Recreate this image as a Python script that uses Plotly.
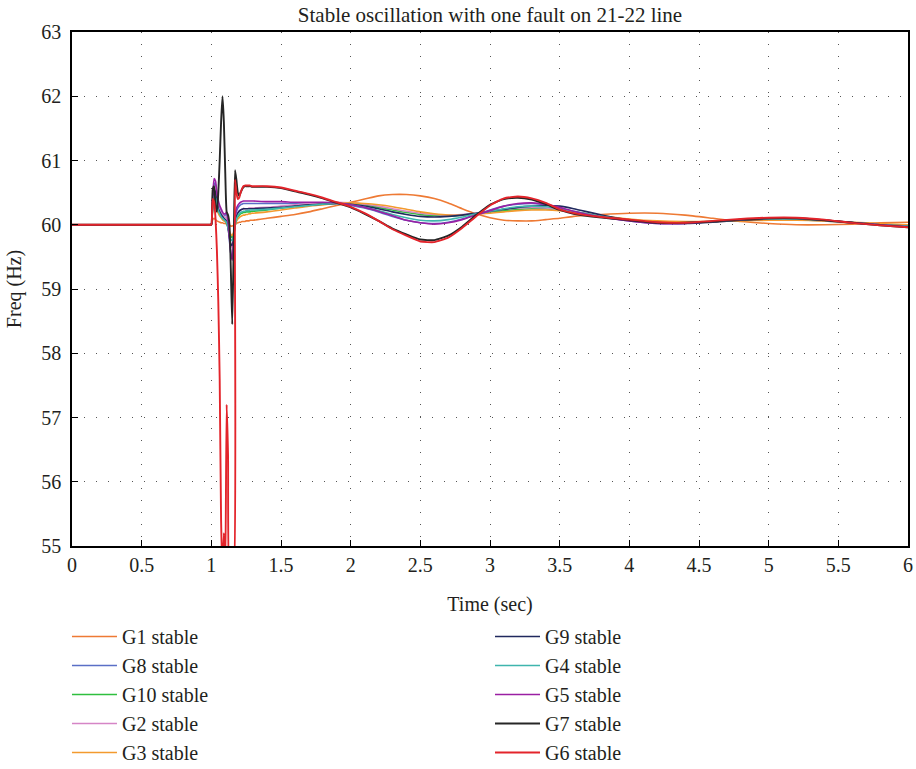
import plotly.graph_objects as go

T = [0.0, 0.99,
     1.00, 1.01, 1.02, 1.03, 1.04, 1.05, 1.06, 1.07, 1.08, 1.09, 1.10, 1.11, 1.12, 1.13, 1.14, 1.15,
     1.16, 1.17, 1.18, 1.19, 1.20, 1.21, 1.22, 1.23, 1.24, 1.25, 1.26, 1.27, 1.28, 1.29, 1.30,
     1.4, 1.5, 1.6, 1.7, 1.8, 1.9, 2.0, 2.1, 2.2, 2.3, 2.4, 2.5, 2.6, 2.7, 2.8, 2.9, 3.0, 3.1, 3.2,
     3.3, 3.4, 3.5, 3.6,
     3.8, 4.0, 4.2, 4.4, 4.6, 4.8, 5.0, 5.2, 5.4, 5.6, 5.8, 6.0]

G1 = [60.0, 60.0,
      60.0, 60.08, 60.1, 60.08, 60.06, 60.05, 60.04, 60.03, 60.03, 60.02, 60.02, 60.01, 60.0, 59.99, 59.98,
      59.98, 59.99, 60.01, 60.02, 60.03, 60.04, 60.04, 60.05, 60.05, 60.05, 60.06, 60.06, 60.06, 60.07, 60.07, 60.07,
      60.1, 60.13, 60.16, 60.2, 60.25, 60.3, 60.35, 60.4, 60.45, 60.47, 60.47, 60.45, 60.41, 60.34, 60.25,
      60.17, 60.11, 60.07, 60.06, 60.06, 60.08, 60.1, 60.13,
      60.16, 60.18, 60.18, 60.15, 60.1, 60.05, 60.02, 60.0, 60.0, 60.01, 60.03, 60.04]
G8 = [60.0, 60.0,
      60.0, 60.4, 60.65, 60.62, 60.45, 60.33, 60.26, 60.22, 60.18, 60.15, 60.15, 60.16, 60.0, 59.75, 59.55,
      59.5, 59.75, 60.05, 60.2, 60.26, 60.29, 60.31, 60.32, 60.33, 60.33, 60.33, 60.33, 60.33, 60.33, 60.33, 60.33,
      60.33, 60.33, 60.33, 60.33, 60.33, 60.33, 60.30, 60.26, 60.20, 60.13, 60.07, 60.03, 60.02, 60.04, 60.09,
      60.16, 60.23, 60.29, 60.32, 60.33, 60.31, 60.26, 60.2,
      60.12, 60.06, 60.02, 60.02, 60.05, 60.08, 60.09, 60.09, 60.07, 60.03, 60.0, 59.98]
G10 = [60.0, 60.0,
       60.0, 60.28, 60.4, 60.37, 60.27, 60.2, 60.15, 60.12, 60.09, 60.07, 60.05, 60.02, 59.95, 59.87, 59.82,
       59.8, 59.86, 59.98, 60.07, 60.12, 60.15, 60.17, 60.18, 60.19, 60.19, 60.2, 60.2, 60.2, 60.2, 60.21, 60.21,
       60.23, 60.26, 60.29, 60.31, 60.33, 60.34, 60.33, 60.31, 60.27, 60.23, 60.19, 60.16, 60.14, 60.14, 60.15,
       60.17, 60.2, 60.22, 60.24, 60.25, 60.25, 60.23, 60.2,
       60.13, 60.08, 60.04, 60.04, 60.05, 60.07, 60.08, 60.08, 60.06, 60.03, 60.0, 59.98]
G2 = [60.0, 60.0,
      60.0, 60.38, 60.6, 60.57, 60.42, 60.3, 60.23, 60.19, 60.16, 60.13, 60.12, 60.1, 59.98, 59.82, 59.68,
      59.65, 59.8, 60.02, 60.14, 60.19, 60.22, 60.23, 60.24, 60.25, 60.25, 60.25, 60.25, 60.26, 60.26, 60.26, 60.26,
      60.27, 60.29, 60.31, 60.33, 60.34, 60.35, 60.34, 60.32, 60.29, 60.25, 60.21, 60.18, 60.16, 60.15, 60.16,
      60.18, 60.21, 60.24, 60.26, 60.27, 60.26, 60.23, 60.19,
      60.12, 60.07, 60.04, 60.04, 60.05, 60.07, 60.08, 60.08, 60.06, 60.03, 60.0, 59.98]
G3 = [60.0, 60.0,
      60.0, 60.25, 60.35, 60.32, 60.24, 60.18, 60.14, 60.11, 60.08, 60.06, 60.05, 60.03, 59.97, 59.9, 59.85,
      59.83, 59.88, 59.98, 60.05, 60.09, 60.11, 60.13, 60.14, 60.15, 60.15, 60.16, 60.16, 60.17, 60.17, 60.18, 60.18,
      60.2, 60.23, 60.26, 60.29, 60.31, 60.33, 60.34, 60.33, 60.31, 60.28, 60.24, 60.2, 60.17, 60.15, 60.15,
      60.16, 60.18, 60.2, 60.22, 60.23, 60.23, 60.22, 60.2,
      60.14, 60.09, 60.06, 60.05, 60.05, 60.06, 60.07, 60.07, 60.06, 60.04, 60.02, 60.0]
G9 = [60.0, 60.0,
      60.0, 60.35, 60.55, 60.5, 60.35, 60.25, 60.2, 60.16, 60.13, 60.1, 60.08, 60.05, 59.95, 59.8, 59.7,
      59.68, 59.8, 60.0, 60.12, 60.18, 60.21, 60.23, 60.24, 60.25, 60.25, 60.25, 60.25, 60.25, 60.25, 60.25, 60.25,
      60.26, 60.27, 60.29, 60.31, 60.32, 60.33, 60.32, 60.29, 60.25, 60.2, 60.16, 60.13, 60.12, 60.13, 60.15,
      60.18, 60.21, 60.24, 60.27, 60.29, 60.3, 60.29, 60.25,
      60.15, 60.07, 60.03, 60.02, 60.04, 60.07, 60.09, 60.09, 60.07, 60.04, 60.0, 59.98]
G4 = [60.0, 60.0,
      60.0, 60.3, 60.45, 60.42, 60.3, 60.22, 60.17, 60.13, 60.1, 60.08, 60.06, 60.03, 59.95, 59.85, 59.77,
      59.75, 59.83, 59.98, 60.08, 60.14, 60.17, 60.19, 60.2, 60.21, 60.21, 60.22, 60.22, 60.22, 60.23, 60.23, 60.23,
      60.24, 60.26, 60.28, 60.3, 60.32, 60.33, 60.31, 60.27, 60.22, 60.16, 60.11, 60.07, 60.06, 60.08, 60.12,
      60.17, 60.21, 60.25, 60.28, 60.29, 60.28, 60.25, 60.21,
      60.13, 60.07, 60.03, 60.03, 60.05, 60.08, 60.09, 60.09, 60.07, 60.03, 60.0, 59.98]
G5 = [60.0, 60.0,
      60.0, 60.45, 60.72, 60.68, 60.5, 60.38, 60.3, 60.25, 60.2, 60.17, 60.17, 60.2, 60.05, 59.8, 59.55,
      59.45, 59.75, 60.1, 60.25, 60.3, 60.33, 60.35, 60.36, 60.37, 60.37, 60.37, 60.37, 60.37, 60.37, 60.37, 60.37,
      60.36, 60.36, 60.35, 60.35, 60.35, 60.34, 60.31, 60.27, 60.21, 60.14, 60.07, 60.03, 60.01, 60.03, 60.08,
      60.15, 60.22, 60.29, 60.33, 60.34, 60.32, 60.27, 60.21,
      60.12, 60.06, 60.02, 60.02, 60.05, 60.08, 60.1, 60.1, 60.07, 60.03, 60.0, 59.97]
G7 = [60.0, 60.0,
      60.0, 60.55, 60.6, 60.3, 60.2, 60.5, 61.0, 61.6, 62.0, 61.6, 60.8, 60.2, 60.15, 60.0, 59.3,
      58.45, 59.6, 60.85, 60.7, 60.5, 60.45, 60.5, 60.55, 60.58, 60.6, 60.6, 60.6, 60.6, 60.6, 60.59, 60.59,
      60.59, 60.57, 60.52, 60.47, 60.41, 60.34, 60.27, 60.17, 60.06, 59.94, 59.85, 59.77, 59.76, 59.83, 59.97,
      60.15, 60.31, 60.40, 60.42, 60.39, 60.32, 60.23, 60.17,
      60.11, 60.07, 60.03, 60.03, 60.05, 60.08, 60.1, 60.1, 60.07, 60.03, 59.99, 59.96]
G6 = [60.0, 60.0,
      60.0, 60.4, 60.35, 60.1, 59.6, 58.8, 57.6, 55.4, 54.6, 55.2, 54.6, 57.2, 56.4, 54.6, 54.6,
      54.6, 54.6, 60.7, 60.5, 60.4, 60.42, 60.5, 60.56, 60.6, 60.61, 60.61, 60.61, 60.61, 60.61, 60.6, 60.6,
      60.6, 60.58, 60.53, 60.48, 60.42, 60.35, 60.28, 60.18, 60.06, 59.93, 59.83, 59.74, 59.73, 59.8, 59.95,
      60.13, 60.3, 60.41, 60.44, 60.41, 60.34, 60.24, 60.18,
      60.12, 60.08, 60.04, 60.03, 60.06, 60.09, 60.11, 60.11, 60.08, 60.03, 59.99, 59.96]

X_TICKS = [0, 0.5, 1, 1.5, 2, 2.5, 3, 3.5, 4, 4.5, 5, 5.5, 6]
X_TICK_TEXT = ["0", "0.5", "1", "1.5", "2", "2.5", "3", "3.5", "4", "4.5", "5", "5.5", "6"]
Y_TICKS = [55, 56, 57, 58, 59, 60, 61, 62, 63]

# name, values, colour, width, legend
SERIES = [
    ("G1 stable", G1, "#ee7a34", 1.6, "legend"),
    ("G8 stable", G8, "#5a6fc6", 1.6, "legend"),
    ("G10 stable", G10, "#2fbf3f", 1.6, "legend"),
    ("G2 stable", G2, "#d585c6", 1.6, "legend"),
    ("G3 stable", G3, "#f39a2e", 1.6, "legend"),
    ("G9 stable", G9, "#20295e", 1.6, "legend2"),
    ("G4 stable", G4, "#3fb5ad", 1.6, "legend2"),
    ("G5 stable", G5, "#9a1fa3", 1.6, "legend2"),
    ("G7 stable", G7, "#262626", 1.9, "legend2"),
    ("G6 stable", G6, "#e3242b", 1.9, "legend2"),
]

for _, vals, _, _, _ in SERIES:
    assert len(vals) == len(T), (len(vals), len(T))

FONT = "Liberation Serif"
TXT = "#231f20"

fig = go.Figure()
for name, vals, col, w, lg in SERIES:
    fig.add_trace(go.Scatter(
        x=T, y=vals, mode="lines", name=name, legend=lg,
        line=dict(color=col, width=w, shape="spline", smoothing=0.5),
    ))

axis_common = dict(
    showline=True, linecolor="black", linewidth=1.5, mirror=True,
    ticks="inside", ticklen=6, tickcolor="black", tickwidth=1,
    showgrid=True, gridcolor="#555555", gridwidth=1, griddash="1px,11px",
    zeroline=False, automargin=False,
    tickfont=dict(family=FONT, size=20, color=TXT),
)

LEG_TOP = 1 - 617 / 769

fig.update_layout(
    width=916, height=769,
    margin=dict(l=72, r=8, t=32, b=223, autoexpand=False),
    paper_bgcolor="white", plot_bgcolor="white",
    title=dict(text="Stable oscillation with one fault on 21-22 line",
               x=0.5, xref="paper", xanchor="center",
               y=1 - 15 / 769, yref="container", yanchor="middle",
               font=dict(family=FONT, size=21, color=TXT)),
    xaxis=dict(range=[0, 6], tickvals=X_TICKS, ticktext=X_TICK_TEXT,
               title=dict(text="Time (sec)", font=dict(family=FONT, size=20, color=TXT), standoff=22),
               **axis_common),
    yaxis=dict(range=[55, 63], tickvals=Y_TICKS, ticklabelstandoff=5,
               title=dict(text="Freq (Hz)", font=dict(family=FONT, size=20, color=TXT), standoff=14),
               **axis_common),
    legend=dict(x=-0.006, xanchor="left", y=LEG_TOP, yref="container", yanchor="top",
                orientation="v", itemwidth=45,
                font=dict(family=FONT, size=20, color=TXT), bgcolor="rgba(0,0,0,0)"),
    legend2=dict(x=0.5, xanchor="left", y=LEG_TOP, yref="container", yanchor="top",
                 orientation="v", itemwidth=45,
                 font=dict(family=FONT, size=20, color=TXT), bgcolor="rgba(0,0,0,0)"),
    showlegend=True,
)

fig.write_html("out.html")
